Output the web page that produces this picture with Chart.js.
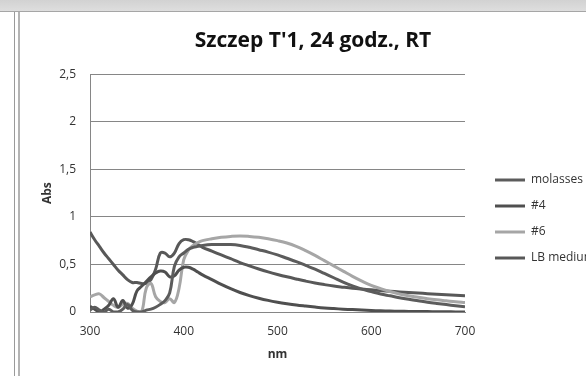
<!DOCTYPE html>
<html>
<head>
<meta charset="utf-8">
<script src="https://cdn.jsdelivr.net/npm/chart.js@4.4.1/dist/chart.umd.min.js"></script>
<style>
    html, body { margin: 0; padding: 0; background: #fff; }
    body { width: 586px; height: 376px; position: relative; overflow: hidden; }
    .topbar { position: absolute; left: 0; top: 0; width: 586px; height: 11px; background: linear-gradient(#d2d2d2, #dedede); border-bottom: 1px solid #a6a6a6; }
    .frame1 { position: absolute; left: 14px; top: 12px; width: 0; height: 364px; border-left: 1px solid #9a9a9a; }
    .frame2 { position: absolute; left: 18px; top: 12px; width: 0; height: 364px; border-left: 2px solid #b4b4b4; }
    #chart { position: absolute; left: 0; top: 0; }
</style>
</head>
<body>
<div class="topbar"></div>
<div class="frame1"></div>
<div class="frame2"></div>
<canvas id="chart" width="586" height="376"></canvas>
<script>
// Wavelengths (nm)
const wavelengths = [300, 305, 310, 315, 320, 325, 330, 335, 340, 345, 350, 355, 360, 365, 370, 375, 380, 385, 390, 395, 400, 405, 410, 415, 420,
    430, 440, 450, 460, 470, 480, 490, 500, 510, 520, 530, 540, 550, 560, 570, 580, 590, 600, 610, 620, 630, 640, 650, 660, 670, 680, 690, 700];

// Absorbance per series
const molasses = [0.02, 0.05, 0.02, 0.00, 0.03, 0.00, 0.00, 0.03, 0.08, 0.02, 0.00, 0.00, 0.02, 0.03, 0.05, 0.08, 0.12, 0.20, 0.48, 0.58, 0.62, 0.66, 0.68, 0.69, 0.70,
    0.71, 0.71, 0.71, 0.70, 0.68, 0.655, 0.63, 0.60, 0.565, 0.53, 0.49, 0.45, 0.405, 0.36, 0.315, 0.275, 0.24, 0.215, 0.19, 0.17, 0.15, 0.133, 0.118, 0.103, 0.09, 0.078, 0.066, 0.055];
const s4 = [0.06, 0.03, 0.00, 0.03, 0.07, 0.14, 0.05, 0.12, 0.04, 0.08, 0.22, 0.27, 0.32, 0.37, 0.41, 0.43, 0.42, 0.37, 0.38, 0.44, 0.47, 0.47, 0.45, 0.42, 0.39,
    0.34, 0.29, 0.245, 0.205, 0.172, 0.145, 0.122, 0.103, 0.087, 0.073, 0.062, 0.052, 0.043, 0.036, 0.03, 0.025, 0.02, 0.016, 0.013, 0.01, 0.008, 0.006, 0.005, 0.004, 0.003, 0.002, 0.001, 0.00];
const s6 = [0.16, 0.18, 0.19, 0.15, 0.11, 0.07, 0.05, 0.08, 0.09, 0.04, 0.01, 0.00, 0.25, 0.30, 0.16, 0.11, 0.10, 0.14, 0.10, 0.25, 0.55, 0.65, 0.70, 0.73, 0.75,
    0.77, 0.785, 0.795, 0.80, 0.795, 0.785, 0.77, 0.75, 0.725, 0.69, 0.645, 0.595, 0.54, 0.485, 0.43, 0.375, 0.325, 0.28, 0.245, 0.215, 0.19, 0.17, 0.155, 0.14, 0.128, 0.118, 0.108, 0.10];
const lbMedium = [0.84, 0.76, 0.69, 0.62, 0.56, 0.50, 0.44, 0.39, 0.34, 0.31, 0.31, 0.30, 0.30, 0.34, 0.45, 0.62, 0.62, 0.58, 0.62, 0.72, 0.76, 0.76, 0.74, 0.71, 0.68,
    0.64, 0.60, 0.56, 0.52, 0.485, 0.452, 0.422, 0.395, 0.37, 0.347, 0.325, 0.305, 0.288, 0.273, 0.261, 0.25, 0.241, 0.233, 0.225, 0.218, 0.211, 0.205, 0.199, 0.193, 0.187, 0.181, 0.176, 0.17];

const seriesNames = ['molasses', '#4', '#6', 'LB medium'];
const seriesValues = [molasses, s4, s6, lbMedium];
const seriesColors = ['#5c5c5c', '#4f4f4f', '#a6a6a6', '#585858'];

// Axis tick labels
const xTicks = [300, 400, 500, 600, 700];
const yTickLabels = ['0', '0,5', '1', '1,5', '2', '2,5'];

const datasets = seriesNames.map((name, i) => ({
    label: name,
    data: wavelengths.map((w, j) => ({ x: w, y: seriesValues[i][j] })),
    borderColor: seriesColors[i],
    backgroundColor: seriesColors[i],
    borderWidth: 3,
    pointRadius: 0,
    tension: 0.4,
    fill: false
}));

// push legend a bit right/down, like the excel layout
const nudgeLegend = {
    id: 'nudgeLegend',
    afterLayout(chart) {
        const lg = chart.legend;
        lg.left += 16; lg.right += 16;
        lg.top += 31; lg.bottom += 31;
    }
};

const font = 'Open Sans';
const textColor = '#333333';

new Chart(document.getElementById('chart'), {
    type: 'line',
    data: { datasets },
    plugins: [nudgeLegend],
    options: {
        responsive: false,
        animation: false,
        layout: { padding: { left: 40, right: 0, top: 0, bottom: 0 } },
        plugins: {
            title: {
                display: true,
                text: "Szczep T'1, 24 godz., RT",
                color: '#111111',
                font: { family: font, size: 21, weight: 'bold' },
                padding: { top: 28, bottom: 21 }
            },
            legend: {
                position: 'right',
                maxWidth: 121,
                labels: {
                    usePointStyle: true,
                    pointStyle: 'line',
                    pointStyleWidth: 30,
                    padding: 14,
                    color: textColor,
                    font: { family: font, size: 12 }
                }
            },
            tooltip: { enabled: false }
        },
        scales: {
            x: {
                type: 'linear',
                min: xTicks[0],
                max: xTicks[xTicks.length - 1],
                afterBuildTicks: (scale) => { scale.ticks = xTicks.map(v => ({ value: v })); },
                afterFit: (scale) => { scale.height = 64; },
                grid: { display: false, drawTicks: false },
                border: { display: true, color: '#868686', width: 1 },
                ticks: { padding: 12, color: textColor, font: { family: font, size: 12 } },
                title: { display: true, text: 'nm', color: textColor, font: { family: font, size: 12, weight: 'bold' }, padding: { top: 0, bottom: 14 } }
            },
            y: {
                min: 0,
                max: 2.5,
                ticks: {
                    stepSize: 0.5,
                    padding: 14,
                    color: textColor,
                    font: { family: font, size: 12 },
                    callback: (v) => yTickLabels[Math.round(v / 0.5)]
                },
                afterFit: (scale) => { scale.width = 50; },
                grid: { color: '#868686', lineWidth: 1, drawTicks: false },
                border: { display: true, color: '#868686', width: 1 },
                title: { display: true, text: 'Abs', color: textColor, font: { family: font, size: 12, weight: 'bold' }, padding: { top: 0, bottom: 0 } }
            }
        }
    }
});
</script>
</body>
</html>
